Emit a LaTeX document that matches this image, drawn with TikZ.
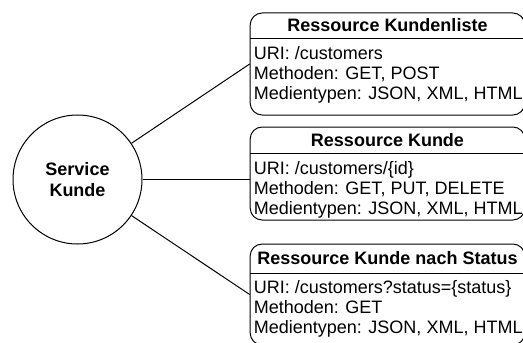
\documentclass[tikz,border=0pt]{standalone}
\usepackage{fontspec}
\setmainfont{Liberation Sans}
\usetikzlibrary{positioning}

\tikzset{
  txt/.style={font=\fontsize{13.5pt}{15pt}\selectfont},
  kopf/.style={anchor=north,minimum width=205.1pt,inner sep=0pt,font=\fontsize{13.5pt}{15pt}\selectfont\bfseries},
  inhalt/.style={txt,anchor=north west,align=left,inner xsep=2.25pt,inner ysep=5.5pt}
}

\begin{document}
\begin{tikzpicture}[x=.75pt,y=-.75pt,line width=.75pt]

        \useasboundingbox (0,0) rectangle (523,342);

        \node[circle,draw,minimum size=96.75pt,align=center,
              font=\fontsize{13.5pt}{15.75pt}\selectfont\bfseries] (0) at (77.5,179.5) {Service\\Kunde};

        \begin{scope}[every node/.style={draw,rounded corners=9pt,minimum width=206pt,inner sep=0pt}]
          \node[minimum height=76.5pt]  (1) at (387.5,64)    {};
          \node[minimum height=69.75pt] (2) at (387.5,173.5) {};
          \node[minimum height=75.75pt] (3) at (387.5,294.5) {};
        \end{scope}

        \node[kopf,minimum height=18.75pt] (k1) at (1.north) {Ressource Kundenliste};
        \node[kopf,minimum height=19.5pt]  (k2) at (2.north) {Ressource Kunde};
        \node[kopf,minimum height=21.75pt] (k3) at (3.north) {Ressource Kunde nach Status};

        \draw (k1.south west) -- (k1.south east);
        \draw (k2.south west) -- (k2.south east);
        \draw (k3.south west) -- (k3.south east);

        \node[inhalt] (i1) at (k1.south west) {URI: /customers\\Methoden: GET, POST\\Medientypen: JSON, XML, HTML};
        \node[inhalt] (i2) at (k2.south west) {URI: /customers/\{id\}\\Methoden: GET, PUT, DELETE\\Medientypen: JSON, XML, HTML};
        \node[inhalt,inner ysep=4.5pt] (i3) at (k3.south west) {URI: /customers?status=\{status\}\\Methoden: GET\\Medientypen: JSON, XML, HTML};

        % Service -> Ressourcen
        \path (0) edge (1.west);
        \path (0.east) edge (0.east -| 2.west);
        \path (0) edge (3.west);

\end{tikzpicture}
\end{document}
